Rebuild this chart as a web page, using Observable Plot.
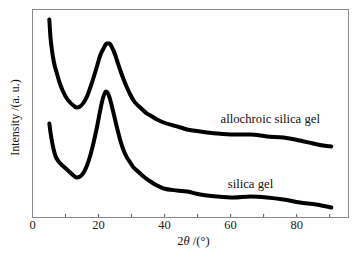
<!DOCTYPE html>
<html>
<head>
<meta charset="utf-8">
<script src="https://cdn.jsdelivr.net/npm/d3@7"></script>
<script src="https://cdn.jsdelivr.net/npm/@observablehq/plot@0.6"></script>
<style>
  html, body { margin: 0; padding: 0; background: #fff; }
  #chart svg { display: block; }
</style>
</head>
<body>
<div id="chart"></div>
<script>
// 2θ positions (degrees) and intensities (a.u.)
const xAllo = [5.1, 5.4, 5.9, 6.5, 7.4, 8.4, 9.4, 10.4, 11.4, 12.4, 13.4, 14.4, 15.5, 16.5, 17.5, 18.5, 19.5, 20.5, 21.5, 22.5, 23.3, 24.1, 25, 25.6, 26.6, 27.6, 28.6, 29.6, 30.6, 31.6, 32.6, 33.6, 34.6, 35.7, 37.7, 39.7, 42.7, 44.8, 46.8, 50.8, 55.9, 60.9, 66, 71, 76, 81, 85, 88, 90.5];
const yAllo = [198, 182, 167, 155, 144, 133, 125, 119, 115, 112, 110, 111, 115, 121, 130, 140, 151, 162, 169, 174, 174, 170, 163, 157, 147, 138, 130, 123, 117, 113, 110, 107, 104, 102, 98, 95, 92, 90, 88, 86, 84, 83, 83, 81, 80, 77, 74, 72, 71];

const xSilica = [5.1, 5.5, 5.9, 6.4, 6.9, 7.9, 9.4, 10.4, 11.4, 12.4, 13.4, 14.4, 15.5, 16.5, 17.5, 18.5, 19.5, 20.5, 21.3, 22.2, 23, 23.5, 24.5, 25.5, 26.6, 27.6, 28.6, 29.6, 30.6, 31.6, 33.6, 35.7, 37.7, 39.7, 43.8, 46.8, 50.8, 55.9, 60.9, 66, 71, 76, 81, 86, 90.5];
const ySilica = [94, 84, 76, 68, 62, 56, 51, 48, 45, 42, 40, 41, 45, 52, 62, 75, 90, 107, 119, 126, 123, 118, 105, 91, 77, 67, 60, 55, 50, 47, 41, 36, 32, 29, 27, 26, 23, 21, 20, 21, 20, 18, 15, 13, 10];

const seriesNames = ["allochroic silica gel", "silica gel"];
const labelX = [72, 66];
const labelY = [99, 34];

const majorTicks = [0, 20, 40, 60, 80];
const minorTicks = [10, 20, 30, 40, 50, 60, 70, 80, 90];

const xLabel = "2θ /(°)";
const yLabel = "Intensity /(a. u.)";

const allo = xAllo.map((x, i) => ({x, y: yAllo[i]}));
const silica = xSilica.map((x, i) => ({x, y: ySilica[i]}));
const labels = seriesNames.map((t, i) => ({t, x: labelX[i], y: labelY[i]}));

const font = "'Liberation Serif', 'Times New Roman', serif";

const chart = Plot.plot({
  width: 361,
  height: 254,
  marginLeft: 32,
  marginRight: 13,
  marginTop: 9,
  marginBottom: 37,
  style: {fontFamily: font, fontSize: "12px", color: "#111", background: "#fff"},
  x: {domain: [0, 95.7]},
  y: {domain: [0, 208]},
  marks: [
    Plot.frame({stroke: "#8a8a8a", strokeWidth: 1}),
    Plot.axisX({ticks: minorTicks, tickSize: -3, text: null, label: null, stroke: "#555"}),
    Plot.axisX({ticks: majorTicks, tickSize: 0, tickPadding: 3, label: null, fontSize: 12.5, fill: "#222"}),
    Plot.axisY({ticks: [], label: null}),
    Plot.line(allo, {x: "x", y: "y", stroke: "#000", strokeWidth: 4, curve: "monotone-x"}),
    Plot.line(silica, {x: "x", y: "y", stroke: "#000", strokeWidth: 4, curve: "monotone-x"}),
    Plot.text(labels, {x: "x", y: "y", text: "t", fontSize: 12.7, fill: "#111"}),
    Plot.text([xLabel], {frameAnchor: "bottom", dx: 3, dy: 27, fontSize: 12.5, fill: "#111"}),
    Plot.text([yLabel], {frameAnchor: "left", textAnchor: "middle", dx: -17, dy: 4, rotate: -90, fontSize: 12, fill: "#111"})
  ]
});

document.getElementById("chart").appendChild(chart);

// make θ italic in the x label
d3.select(chart).selectAll("text").each(function() {
  const el = d3.select(this);
  if (el.text() === xLabel) {
    el.text(null);
    el.append("tspan").text("2");
    el.append("tspan").attr("font-style", "italic").text("θ");
    el.append("tspan").text(" /(°)");
  }
});
</script>
</body>
</html>
